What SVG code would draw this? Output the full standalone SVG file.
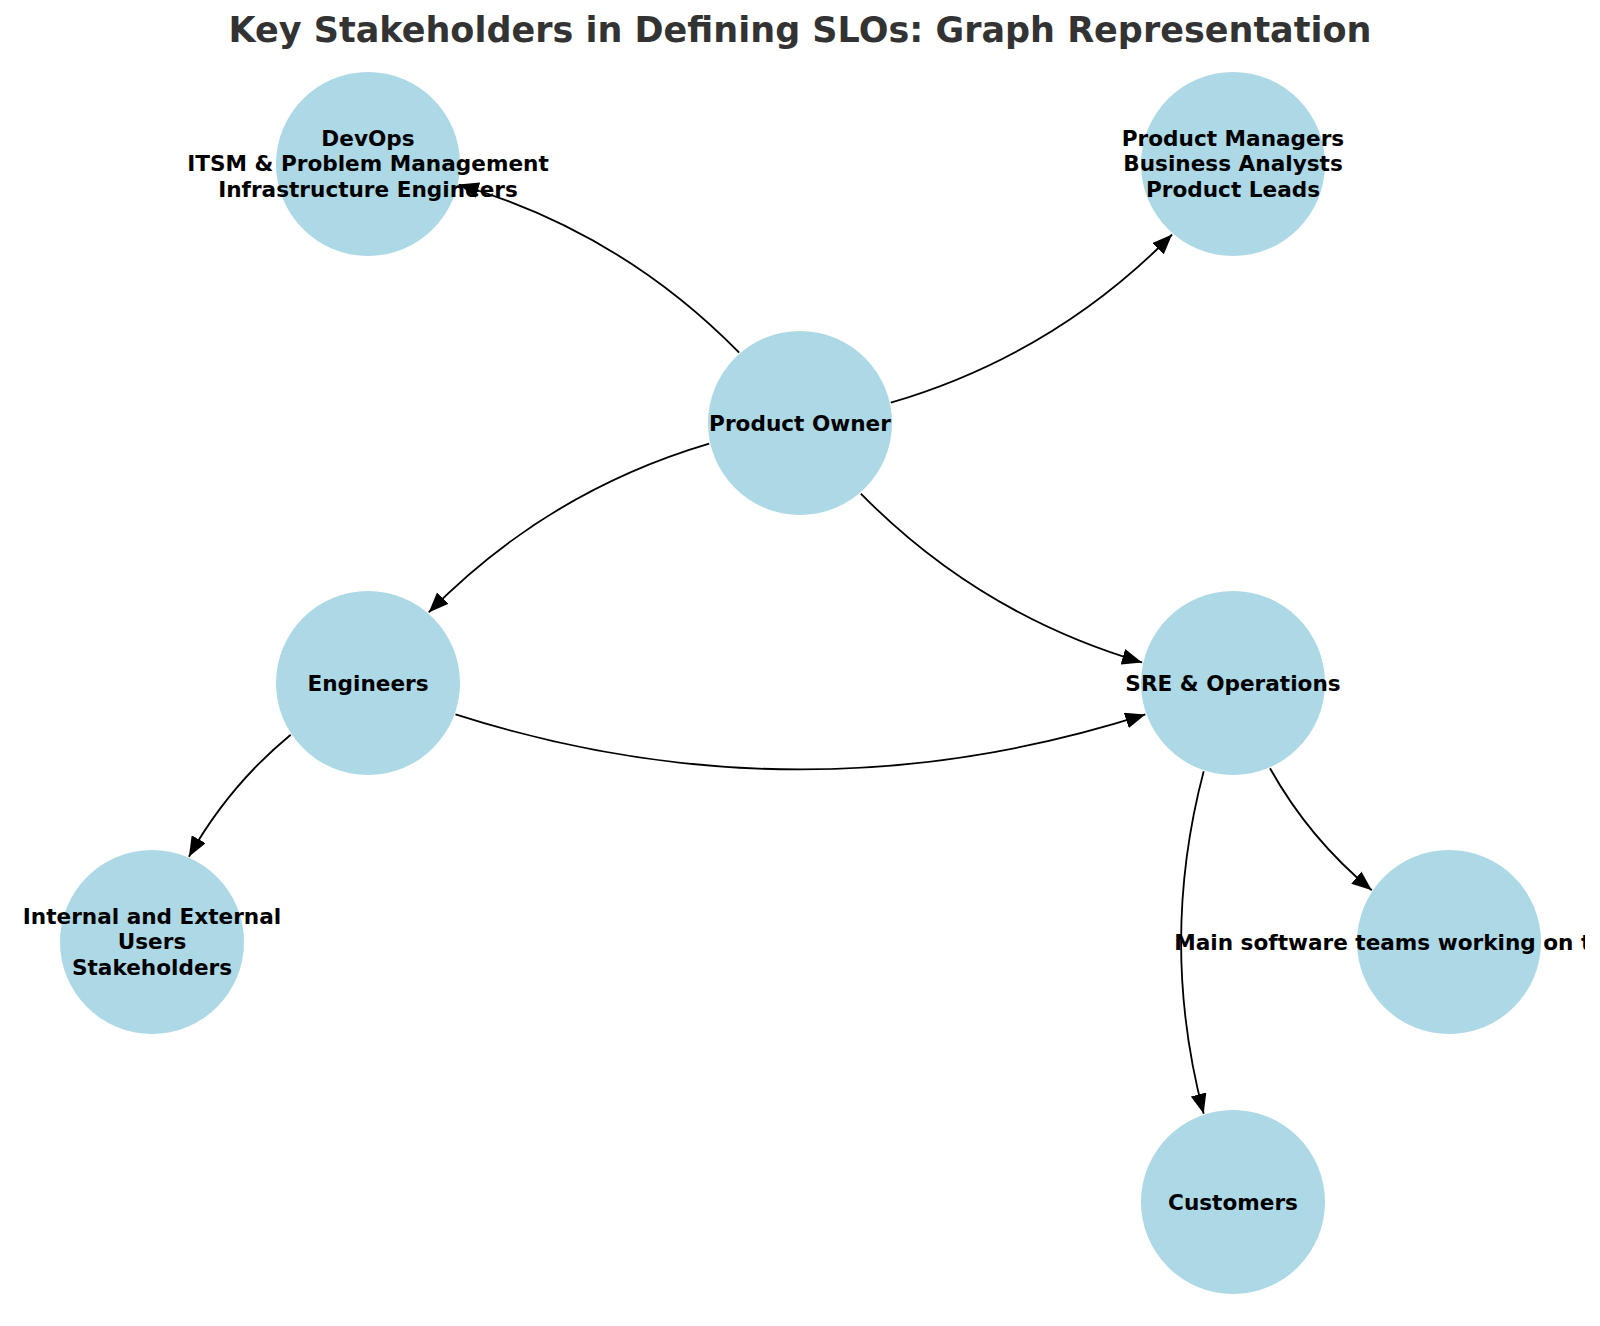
<svg xmlns="http://www.w3.org/2000/svg" width="1600" height="1326" viewBox="0 0 1600 1326">
<style>
.node circle{fill:#ADD8E6;}
.node text{font-family:"DejaVu Sans",sans-serif;font-weight:bold;font-size:21.6px;fill:#000;text-anchor:middle;}
.title{font-family:"DejaVu Sans",sans-serif;font-weight:bold;font-size:35px;fill:#333333;text-anchor:middle;}
.edges path{fill:none;stroke:#000;stroke-width:1.8;marker-end:url(#arrow);}
</style>
<defs>
<marker id="arrow" markerUnits="userSpaceOnUse" markerWidth="20" markerHeight="16" refX="20" refY="8" orient="auto">
<path d="M0,0 L20,8 L0,16 z" fill="#000"/>
</marker>
<clipPath id="frame"><rect x="0" y="0" width="1585" height="1326"/></clipPath>
</defs>
<rect width="1600" height="1326" fill="#fff"/>
<text class="title" x="800" y="42">Key Stakeholders in Defining SLOs: Graph Representation</text>
<g class="edges" id="edges">
<path d="M739.2,352.7 Q620.9,232.0 458.7,184.5"/>
<path d="M890.8,402.7 Q1053.4,355.1 1172.1,234.5"/>
<path d="M709.2,443.6 Q547.1,491.6 428.7,612.4"/>
<path d="M860.8,493.6 Q979.6,614.6 1142.1,662.4"/>
<path d="M455.5,714.4 Q800.4,824.5 1145.4,714.4"/>
<path d="M290.7,734.7 Q228.4,786.1 188.9,856.7"/>
<path d="M1270.0,768.3 Q1309.4,838.9 1371.8,890.3"/>
<path d="M1203.7,771.2 Q1158.5,942.5 1203.7,1113.8"/>
</g>
<g class="node" id="devops"><circle cx="368" cy="164" r="92"/><text x="368" y="145.5">DevOps</text><text x="368" y="171">ITSM &amp; Problem Management</text><text x="368" y="196.5">Infrastructure Engineers</text></g>
<g class="node" id="pm"><circle cx="1233" cy="164" r="92"/><text x="1233" y="145.5">Product Managers</text><text x="1233" y="171">Business Analysts</text><text x="1233" y="196.5">Product Leads</text></g>
<g class="node" id="po"><circle cx="800" cy="423" r="92"/><text x="800" y="430.5">Product Owner</text></g>
<g class="node" id="engineers"><circle cx="368" cy="683" r="92"/><text x="368" y="690.5">Engineers</text></g>
<g class="node" id="sre"><circle cx="1233" cy="683" r="92"/><text x="1233" y="690.5">SRE &amp; Operations</text></g>
<g class="node" id="users"><circle cx="152" cy="942" r="92"/><text x="152" y="923.5">Internal and External</text><text x="152" y="949">Users</text><text x="152" y="974.5">Stakeholders</text></g>
<g class="node" id="teams"><circle cx="1449" cy="942" r="92"/><text x="1449" y="949.5" clip-path="url(#frame)">Main software teams working on the product</text></g>
<g class="node" id="customers"><circle cx="1233" cy="1202" r="92"/><text x="1233" y="1209.5">Customers</text></g>
</svg>
